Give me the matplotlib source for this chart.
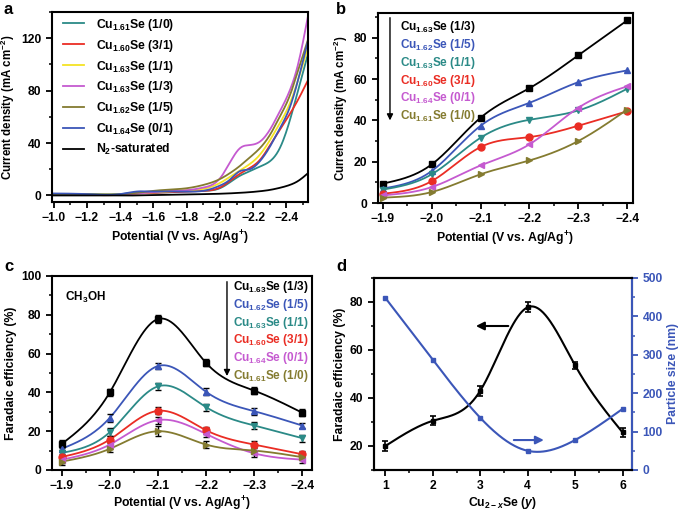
import numpy as np
import matplotlib
matplotlib.use('Agg')
import matplotlib.pyplot as plt
from matplotlib.ticker import MultipleLocator

# ---- data ----
# panel a: LSV curves
E_a = [-1.0, -1.2, -1.4, -1.5, -1.6, -1.7, -1.8, -1.9, -2.0, -2.06, -2.12, -2.18,
       -2.24, -2.3, -2.36, -2.42, -2.47, -2.53]
j_10 = [1, 1, 1, 2, 2, 2.5, 3, 3.5, 5.5, 10, 15, 18.5, 22, 26, 36, 57, 80, 108]
j_31 = [1, 0.5, 0.5, 1.5, 2, 2.5, 3, 3.5, 6, 11, 16.5, 21, 27, 38, 50, 62, 73, 88]
j_11 = [1, 0.5, 0.5, 1.5, 2.5, 3, 4, 5, 9.5, 14, 19, 24, 31, 42, 55, 70, 88, 113]
j_13 = [1, 0.5, 0.5, 1.5, 2.5, 3.5, 4, 6, 13, 25, 36, 38.5, 41, 50, 64, 80, 100, 137]
j_15 = [1, 1, 1, 2, 3.5, 4.5, 5.5, 8, 12.5, 17, 22.5, 29, 36, 46, 60, 76, 95, 119]
j_01 = [1.5, 1, 1, 3, 3, 3, 3, 3.5, 7.5, 12, 18.5, 20, 26, 37, 51, 67, 88, 118]
j_n2 = [0, 0, 0, 0, 0.3, 0.5, 0.8, 1.0, 1.3, 1.6, 2.0, 2.5, 3.2, 4.2, 5.8, 8, 11, 17]

# panels b, c: potentials
E = [-1.9, -2.0, -2.1, -2.2, -2.3, -2.4]
# panel b: current density
cd_13 = [9.4, 18.7, 41.3, 55.6, 71.5, 88.4]
cd_15 = [7.0, 15.5, 37.4, 48.5, 58.5, 64.2]
cd_11 = [6.5, 13.9, 31.6, 40.3, 44.8, 55.3]
cd_31 = [4.5, 10.6, 27.1, 31.9, 37.4, 44.4]
cd_01 = [3.7, 7.7, 18.2, 28.4, 46.1, 56.5]
cd_10 = [2.6, 5.3, 13.9, 20.6, 30.0, 45.2]
# panel c: faradaic efficiency of CH3OH
fe_13 = [13.4, 40.0, 77.8, 55.2, 40.9, 29.5]
fe_15 = [10.9, 26.9, 53.6, 40.3, 30.3, 22.9]
fe_11 = [8.8, 19.5, 43.1, 32.4, 22.9, 16.4]
fe_31 = [6.7, 15.7, 30.5, 20.5, 13.1, 8.1]
fe_01 = [5.3, 13.1, 25.7, 18.6, 8.6, 5.3]
fe_10 = [4.3, 10.9, 20.0, 13.1, 10.0, 6.6]
err_13 = [2.0, 2.0, 2.0, 1.8, 1.8, 1.8]
err_15 = [1.5, 2.0, 1.5, 1.8, 1.8, 1.5]
err_11 = [1.5, 2.0, 2.0, 1.8, 1.8, 1.8]
err_31 = [1.5, 1.8, 1.8, 1.8, 1.8, 1.5]
err_01 = [1.5, 1.8, 1.8, 1.8, 1.8, 1.5]
err_10 = [1.5, 1.8, 2.5, 1.8, 1.8, 1.5]
# panel d
y_idx = [1, 2, 3, 4, 5, 6]
fe_max = [20.0, 30.5, 43.0, 77.8, 53.6, 25.7]
fe_max_err = [2.0, 1.8, 2.2, 2.0, 1.6, 1.8]
size_nm = [448, 287, 136, 50, 78, 159]

labels_b = ['1.63', '1.62', '1.63', '1.60', '1.64', '1.61']
ratios_b = ['1/3', '1/5', '1/1', '3/1', '0/1', '1/0']

BLACK = '#000000'
BLUE = '#3b56b8'
TEAL = '#2b8a87'
RED = '#ea2d24'
PURPLE = '#c55ad0'
OLIVE = '#847b30'
YELLOW = '#f4e324'

plt.rcParams['font.family'] = ['Liberation Sans', 'DejaVu Sans']
plt.rcParams['font.weight'] = 'bold'
plt.rcParams['axes.labelweight'] = 'bold'
plt.rcParams['mathtext.fontset'] = 'custom'
plt.rcParams['mathtext.rm'] = 'Liberation Sans:bold'
plt.rcParams['mathtext.bf'] = 'Liberation Sans:bold'
plt.rcParams['mathtext.it'] = 'Liberation Sans:bold:italic'
plt.rcParams['mathtext.default'] = 'bf'
plt.rcParams['axes.linewidth'] = 1.5
plt.rcParams['xtick.major.width'] = 1.3
plt.rcParams['ytick.major.width'] = 1.3
plt.rcParams['xtick.minor.width'] = 1.1
plt.rcParams['ytick.minor.width'] = 1.1
plt.rcParams['xtick.major.size'] = 4
plt.rcParams['ytick.major.size'] = 4
plt.rcParams['xtick.minor.size'] = 2.5
plt.rcParams['ytick.minor.size'] = 2.5
plt.rcParams['xtick.labelsize'] = 8.7
plt.rcParams['ytick.labelsize'] = 8.7
plt.rcParams['axes.labelsize'] = 8.8
plt.rcParams['axes.labelpad'] = 3


def spline(x, y, num=300):
    # natural cubic spline drawn through the points (like Origin's spline line)
    x = np.asarray(x, float)
    y = np.asarray(y, float)
    order = np.argsort(x)
    x, y = x[order], y[order]
    n = len(x)
    h = np.diff(x)
    A = np.zeros((n, n))
    r = np.zeros(n)
    A[0, 0] = A[-1, -1] = 1
    for i in range(1, n - 1):
        A[i, i - 1] = h[i - 1]
        A[i, i] = 2 * (h[i - 1] + h[i])
        A[i, i + 1] = h[i]
        r[i] = 3 * ((y[i + 1] - y[i]) / h[i] - (y[i] - y[i - 1]) / h[i - 1])
    c = np.linalg.solve(A, r)
    b = (y[1:] - y[:-1]) / h - h * (2 * c[:-1] + c[1:]) / 3
    d = (c[1:] - c[:-1]) / (3 * h)
    xs = np.linspace(x[0], x[-1], num)
    k = np.clip(np.searchsorted(x, xs) - 1, 0, n - 2)
    t = xs - x[k]
    return xs, y[k] + b[k] * t + c[k] * t ** 2 + d[k] * t ** 3


def cu(sub, ratio):
    return r'Cu$_{' + sub + '}$Se (' + ratio + ')'


W, H = 685, 512
fig = plt.figure(figsize=(W / 100, H / 100), dpi=100)


def px_axes(l, t, r, b):
    return fig.add_axes([l / W, 1 - b / H, (r - l) / W, (b - t) / H])


def style(ax):
    ax.tick_params(which='both', direction='out', top=False, right=False)


# ---------------- panel a ----------------
ax = px_axes(52, 12, 308, 202)
style(ax)
curves_a = [(j_10, TEAL, cu('1.61', '1/0')), (j_31, RED, cu('1.60', '3/1')),
            (j_11, YELLOW, cu('1.63', '1/1')), (j_13, PURPLE, cu('1.63', '1/3')),
            (j_15, OLIVE, cu('1.62', '1/5')), (j_01, BLUE, cu('1.64', '0/1'))]
for jj, col, lab in curves_a:
    xs, ys = spline(E_a, jj)
    ax.plot(xs, ys, color=col, lw=1.3, label=lab)
xs, ys = spline(E_a, j_n2)
ax.plot(xs, ys, color=BLACK, lw=1.3, label=r'N$_2$-saturated')
ax.set_xlim(-0.99, -2.53)
ax.set_ylim(-5, 140)
ax.xaxis.set_major_locator(MultipleLocator(0.2))
ax.xaxis.set_minor_locator(MultipleLocator(0.1))
ax.yaxis.set_major_locator(MultipleLocator(40))
ax.yaxis.set_minor_locator(MultipleLocator(20))
ax.set_xlabel(r'Potential (V vs. Ag/Ag$^{+}$)')
ax.set_ylabel(r'Current density (mA cm$^{-2}$)', fontsize=8.3)
ax.legend(loc='upper left', bbox_to_anchor=(0.043, 0.975), frameon=False,
          fontsize=8.8, handlelength=1.7, labelspacing=0.4, handletextpad=1.0,
          borderaxespad=0, borderpad=0)

# ---------------- panel b ----------------
ax = px_axes(378, 13, 633, 203)
style(ax)
series_b = [(cd_13, BLACK, 's'), (cd_15, BLUE, '^'), (cd_11, TEAL, 'v'),
            (cd_31, RED, 'o'), (cd_01, PURPLE, '<'), (cd_10, OLIVE, '>')]
for vals, col, mk in series_b:
    xs, ys = spline(E, vals)
    ax.plot(xs, ys, color=col, lw=1.3)
    ax.plot(E, vals, ls='none', marker=mk, color=col, ms=5)
ax.set_xlim(-1.89, -2.412)
ax.set_ylim(0, 92)
ax.xaxis.set_major_locator(MultipleLocator(0.1))
ax.xaxis.set_minor_locator(MultipleLocator(0.05))
ax.yaxis.set_major_locator(MultipleLocator(20))
ax.yaxis.set_minor_locator(MultipleLocator(10))
ax.set_xlabel(r'Potential (V vs. Ag/Ag$^{+}$)')
ax.set_ylabel(r'Current density (mA cm$^{-2}$)', fontsize=8.3)
for i, (vals, col, mk) in enumerate(series_b):
    ax.text(0.085, 0.925 - i * 0.0935, cu(labels_b[i], ratios_b[i]), color=col,
            fontsize=8.5, transform=ax.transAxes, va='center', ha='left')
ax.annotate('', xy=(0.047, 0.42), xytext=(0.047, 0.99), xycoords='axes fraction',
            arrowprops=dict(arrowstyle='-|>', color='k', lw=1.0, mutation_scale=9))

# ---------------- panel c ----------------
ax = px_axes(52, 276, 312, 470)
style(ax)
series_c = [(fe_13, err_13, BLACK, 's'), (fe_15, err_15, BLUE, '^'),
            (fe_11, err_11, TEAL, 'v'), (fe_31, err_31, RED, 'o'),
            (fe_01, err_01, PURPLE, '<'), (fe_10, err_10, OLIVE, '>')]
for vals, err, col, mk in series_c:
    xs, ys = spline(E, vals)
    ax.plot(xs, ys, color=col, lw=1.3)
    ax.errorbar(E, vals, yerr=err, ls='none', marker=mk, color=col, ms=5,
                ecolor='k', elinewidth=1.0, capsize=2.5, capthick=1.0)
ax.set_xlim(-1.88, -2.42)
ax.set_ylim(0, 100)
ax.xaxis.set_major_locator(MultipleLocator(0.1))
ax.xaxis.set_minor_locator(MultipleLocator(0.05))
ax.yaxis.set_major_locator(MultipleLocator(20))
ax.yaxis.set_minor_locator(MultipleLocator(10))
ax.set_xlabel(r'Potential (V vs. Ag/Ag$^{+}$)', labelpad=2)
ax.set_ylabel('Faradaic efficiency (%)')
ax.text(0.05, 0.89, r'CH$_3$OH', fontsize=8.5, transform=ax.transAxes,
        va='center', ha='left')
for i, (vals, err, col, mk) in enumerate(series_c):
    ax.text(0.695, 0.943 - i * 0.0915, cu(labels_b[i], ratios_b[i]), color=col,
            fontsize=8.5, transform=ax.transAxes, va='center', ha='left')
ax.annotate('', xy=(0.673, 0.47), xytext=(0.673, 0.985), xycoords='axes fraction',
            arrowprops=dict(arrowstyle='-|>', color='k', lw=1.0, mutation_scale=9))

# ---------------- panel d ----------------
ax = px_axes(374, 278, 632, 470)
ax.tick_params(which='both', direction='out', top=False, right=False)
xs, ys = spline(y_idx, fe_max)
ax.plot(xs, ys, color=BLACK, lw=1.5)
ax.errorbar(y_idx, fe_max, yerr=fe_max_err, ls='none', marker='s', ms=3, color='k',
            elinewidth=1.2, capsize=2.5, capthick=1.2)
ax.set_xlim(0.76, 6.2)
ax.set_ylim(10, 90)
ax.xaxis.set_major_locator(MultipleLocator(1))
ax.xaxis.set_minor_locator(MultipleLocator(0.5))
ax.yaxis.set_major_locator(MultipleLocator(20))
ax.yaxis.set_minor_locator(MultipleLocator(10))
ax.set_xlabel(r'Cu$_{2-\mathit{x}}$Se ($\mathit{y}$)', labelpad=2)
ax.set_ylabel('Faradaic efficiency (%)')
ax.annotate('', xy=(2.85, 70), xytext=(3.65, 70),
            arrowprops=dict(arrowstyle='-|>', color='k', lw=1.5, mutation_scale=12))

ax2 = ax.twinx()
xs, ys = spline(y_idx, size_nm)
ax2.plot(xs, ys, color=BLUE, lw=1.5)
ax2.plot(y_idx, size_nm, ls='none', marker='s', ms=3, color=BLUE)
ax2.set_ylim(0, 500)
ax2.yaxis.set_major_locator(MultipleLocator(100))
ax2.yaxis.set_minor_locator(MultipleLocator(50))
ax2.tick_params(which='both', direction='out', colors=BLUE)
ax2.spines['right'].set_color(BLUE)
ax2.set_ylabel('Particle size (nm)', color=BLUE)
ax2.annotate('', xy=(4.4, 78), xytext=(3.65, 78),
             arrowprops=dict(arrowstyle='-|>', color=BLUE, lw=1.5, mutation_scale=12))

# panel letters
for letter, xp, yp in [('a', 4, 2), ('b', 336, 2), ('c', 4, 259), ('d', 336, 259)]:
    fig.text(xp / W, 1 - yp / H, letter, fontsize=12, fontweight='bold', va='top')

fig.savefig('out.png', dpi=100)
